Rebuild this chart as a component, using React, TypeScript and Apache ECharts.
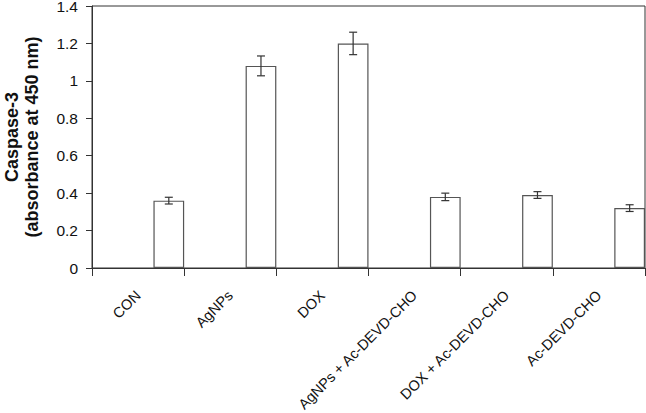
import React, { useEffect, useRef } from "react";
import * as echarts from "echarts";

const categories = [
  "CON",
  "AgNPs",
  "DOX",
  "AgNPs + Ac-DEVD-CHO",
  "DOX + Ac-DEVD-CHO",
  "Ac-DEVD-CHO",
];
const values = [0.36, 1.08, 1.2, 0.38, 0.39, 0.32];
const errors = [0.018, 0.053, 0.06, 0.02, 0.018, 0.018];
const yTicks = { min: 0, max: 1.4, interval: 0.2 };

export default function App() {
  const ref = useRef<HTMLDivElement>(null);
  useEffect(() => {
    if (!ref.current) return;
    const chart = echarts.init(ref.current, null, { renderer: "svg" });
    const empty = categories.map(() => "-");
    const font = "Liberation Sans, Arial, sans-serif";
    chart.setOption({
      animation: false,
      backgroundColor: "#fff",
      grid: {
        left: 92,
        right: 1,
        top: 6,
        bottom: 145,
        containLabel: false,
        outerBoundsMode: "none",
        show: true,
        borderColor: "#333",
        borderWidth: 1,
        backgroundColor: "transparent",
      },
      xAxis: {
        type: "category",
        data: categories,
        axisLine: { lineStyle: { color: "#333", width: 1 } },
        axisTick: { show: true, length: 8, lineStyle: { color: "#333" } },
        axisLabel: {
          rotate: 45,
          margin: 25,
          fontSize: 14.6,
          fontFamily: font,
          color: "#111",
          interval: 0,
        },
      },
      yAxis: {
        type: "value",
        min: yTicks.min,
        max: yTicks.max,
        interval: yTicks.interval,
        name: "Caspase-3\n(absorbance at 450 nm)",
        nameLocation: "middle",
        nameGap: 50,
        nameTextStyle: {
          fontSize: 18,
          fontWeight: "bold",
          fontFamily: font,
          color: "#111",
          lineHeight: 20,
        },
        splitLine: { show: false },
        axisLine: { show: true, lineStyle: { color: "#333", width: 1 } },
        axisTick: { show: true, length: 6, lineStyle: { color: "#333" } },
        axisLabel: {
          margin: 14,
          fontSize: 15.5,
          fontFamily: font,
          color: "#111",
        },
      },
      series: [
        { type: "bar", data: empty, barGap: "0%", barCategoryGap: "0%" },
        { type: "bar", data: empty, barGap: "0%", barCategoryGap: "0%" },
        {
          type: "bar",
          data: values,
          barGap: "0%",
          barCategoryGap: "0%",
          itemStyle: { color: "#fff", borderColor: "#555", borderWidth: 1.2 },
          z: 2,
        },
        {
          type: "custom",
          data: values.map((v, i) => [i, v, errors[i]]),
          z: 5,
          renderItem: (params: any, api: any) => {
            const idx = api.value(0);
            const v = api.value(1);
            const e = api.value(2);
            const band = api.size([1, 0])[0];
            const c = api.coord([idx, v]);
            const x = c[0] + band / 3;
            const top = api.coord([idx, v + e])[1];
            const bot = api.coord([idx, v - e])[1];
            const cap = 4;
            const style = { stroke: "#333", lineWidth: 1.2 };
            return {
              type: "group",
              children: [
                { type: "line", shape: { x1: x, y1: top, x2: x, y2: bot }, style },
                { type: "line", shape: { x1: x - cap, y1: top, x2: x + cap, y2: top }, style },
                { type: "line", shape: { x1: x - cap, y1: bot, x2: x + cap, y2: bot }, style },
              ],
            };
          },
        },
      ],
    });
    return () => chart.dispose();
  }, []);
  return (
    <div
      ref={ref}
      style={{ position: "absolute", left: 0, top: 0, width: 646, height: 413 }}
    />
  );
}
